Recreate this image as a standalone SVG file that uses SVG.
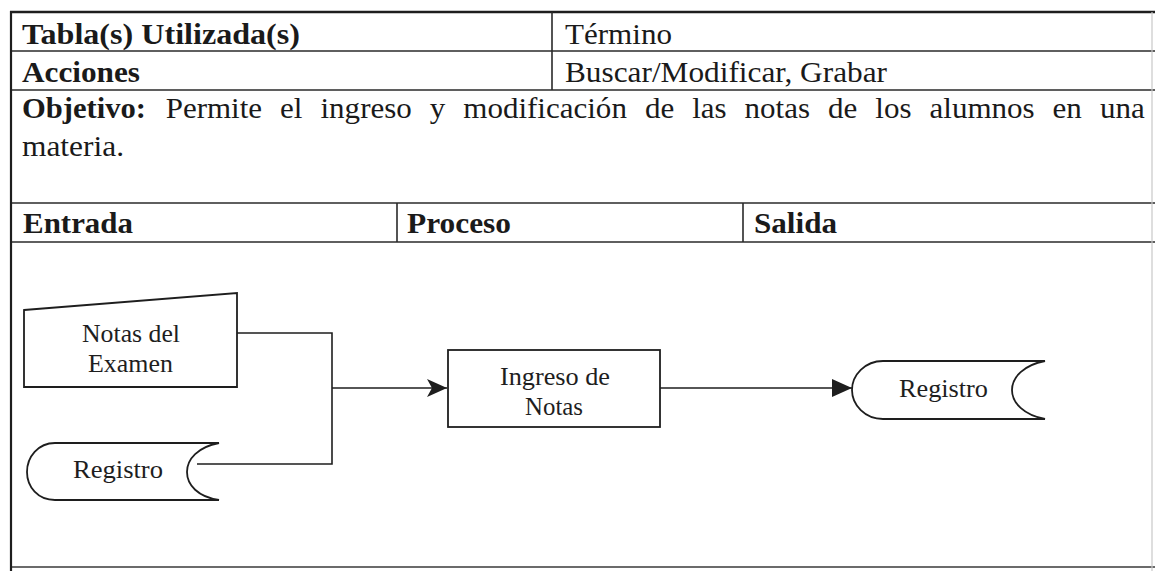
<svg xmlns="http://www.w3.org/2000/svg" width="1155" height="571" viewBox="0 0 1155 571">
  <style>
    .t { font-family: "Liberation Serif", "Times New Roman", serif; font-size: 29px; fill: #1a1a1a; }
    .b { font-weight: bold; }
    .n { font-family: "Liberation Serif", "Times New Roman", serif; font-size: 25px; fill: #1e1e1e; }
    .grid { stroke: #2a2a2a; stroke-width: 1.6; fill: none; }
    .shape { stroke: #1e1e1e; stroke-width: 1.8; fill: #ffffff; stroke-linejoin: miter; }
    .conn { stroke: #1e1e1e; stroke-width: 1.6; fill: none; }
  </style>
  <defs>
    <marker id="stealth" markerUnits="userSpaceOnUse" markerWidth="20" markerHeight="18" viewBox="0 0 20 18" refX="20" refY="9" orient="auto">
      <path d="M0,0 L20,9 L0,18 L5,9 Z" fill="#1e1e1e"/>
    </marker>
    <marker id="tri" markerUnits="userSpaceOnUse" markerWidth="20" markerHeight="18" viewBox="0 0 20 18" refX="20" refY="9" orient="auto">
      <path d="M0,0 L20,9 L0,18 Z" fill="#1e1e1e"/>
    </marker>
  </defs>
  <rect width="1155" height="571" fill="#ffffff"/>

  <g id="table">
    <line x1="10" y1="12" x2="1155" y2="12" stroke="#1e1e1e" stroke-width="2.6"/>
    <line class="grid" x1="11" y1="51" x2="1155" y2="51"/>
    <line class="grid" x1="11" y1="90" x2="1155" y2="90"/>
    <line class="grid" x1="11" y1="203" x2="1155" y2="203"/>
    <line class="grid" x1="11" y1="242" x2="1155" y2="242"/>
    <line x1="11" y1="567" x2="1155" y2="567" stroke="#3a3a3a" stroke-width="1.6"/>
    <line x1="11" y1="11" x2="11" y2="571" stroke="#1e1e1e" stroke-width="2.2"/>
    <line x1="1152" y1="12" x2="1152" y2="571" stroke="#c8c8c8" stroke-width="1.2"/>
    <line class="grid" x1="552" y1="12" x2="552" y2="90"/>
    <line class="grid" x1="397" y1="203" x2="397" y2="242"/>
    <line class="grid" x1="743" y1="203" x2="743" y2="242"/>

    <text class="t b" x="22" y="44" textLength="278" lengthAdjust="spacingAndGlyphs">Tabla(s) Utilizada(s)</text>
    <text class="t" x="565" y="44" textLength="107" lengthAdjust="spacingAndGlyphs">Término</text>
    <text class="t b" x="22" y="82" textLength="118" lengthAdjust="spacingAndGlyphs">Acciones</text>
    <text class="t" x="565" y="82" textLength="322" lengthAdjust="spacingAndGlyphs">Buscar/Modificar, Grabar</text>

    <text class="t b" x="22" y="118" textLength="124" lengthAdjust="spacingAndGlyphs">Objetivo:</text>
    <text class="t" x="165.7" y="118" textLength="96.4" lengthAdjust="spacingAndGlyphs">Permite</text>
    <text class="t" x="280.1" y="118" textLength="22.4" lengthAdjust="spacingAndGlyphs">el</text>
    <text class="t" x="320.5" y="118" textLength="91.3" lengthAdjust="spacingAndGlyphs">ingreso</text>
    <text class="t" x="429.8" y="118" textLength="15.5" lengthAdjust="spacingAndGlyphs">y</text>
    <text class="t" x="463.3" y="118" textLength="163.6" lengthAdjust="spacingAndGlyphs">modificación</text>
    <text class="t" x="644.9" y="118" textLength="29.3" lengthAdjust="spacingAndGlyphs">de</text>
    <text class="t" x="692.2" y="118" textLength="34.4" lengthAdjust="spacingAndGlyphs">las</text>
    <text class="t" x="744.6" y="118" textLength="65.4" lengthAdjust="spacingAndGlyphs">notas</text>
    <text class="t" x="828" y="118" textLength="29.3" lengthAdjust="spacingAndGlyphs">de</text>
    <text class="t" x="875.3" y="118" textLength="36.2" lengthAdjust="spacingAndGlyphs">los</text>
    <text class="t" x="929.5" y="118" textLength="105.1" lengthAdjust="spacingAndGlyphs">alumnos</text>
    <text class="t" x="1052.6" y="118" textLength="29.3" lengthAdjust="spacingAndGlyphs">en</text>
    <text class="t" x="1099.9" y="118" textLength="44.8" lengthAdjust="spacingAndGlyphs">una</text>
    <text class="t" x="22" y="156" textLength="102" lengthAdjust="spacingAndGlyphs">materia.</text>

    <text class="t b" x="23" y="233" textLength="110" lengthAdjust="spacingAndGlyphs">Entrada</text>
    <text class="t b" x="407" y="233" textLength="104" lengthAdjust="spacingAndGlyphs">Proceso</text>
    <text class="t b" x="754" y="233" textLength="83" lengthAdjust="spacingAndGlyphs">Salida</text>
  </g>

  <g id="connectors">
    <path class="conn" d="M237,333 H332 V464 H197"/>
    <path class="conn" d="M332,388 H447" marker-end="url(#stealth)"/>
    <path class="conn" d="M660,388 H852" marker-end="url(#tri)"/>
  </g>

  <g id="node-notas-examen">
    <polygon class="shape" points="24,310 237,293 237,387 24,387"/>
    <text class="n" x="82" y="342" textLength="98" lengthAdjust="spacingAndGlyphs">Notas del</text>
    <text class="n" x="88" y="372" textLength="85" lengthAdjust="spacingAndGlyphs">Examen</text>
  </g>

  <g id="node-registro-entrada">
    <path class="shape" d="M55,443 L219,443 C198,447 187,459 187,472 C187,485 198,497 219,500 L55,500 C38,500 27,487 27,472 C27,457 38,443 55,443 Z"/>
    <text class="n" x="73" y="478" textLength="90" lengthAdjust="spacingAndGlyphs">Registro</text>
  </g>

  <g id="node-ingreso-notas">
    <rect class="shape" x="448" y="350" width="212" height="77"/>
    <text class="n" x="500" y="385" textLength="110" lengthAdjust="spacingAndGlyphs">Ingreso de</text>
    <text class="n" x="525" y="415" textLength="58" lengthAdjust="spacingAndGlyphs">Notas</text>
  </g>

  <g id="node-registro-salida">
    <path class="shape" d="M883,361 L1045,361 C1024,365 1012,377 1012,390 C1012,403 1024,415 1045,419 L883,419 C865,419 852,405 852,390 C852,375 865,361 883,361 Z"/>
    <text class="n" x="899" y="397" textLength="89" lengthAdjust="spacingAndGlyphs">Registro</text>
  </g>
</svg>
